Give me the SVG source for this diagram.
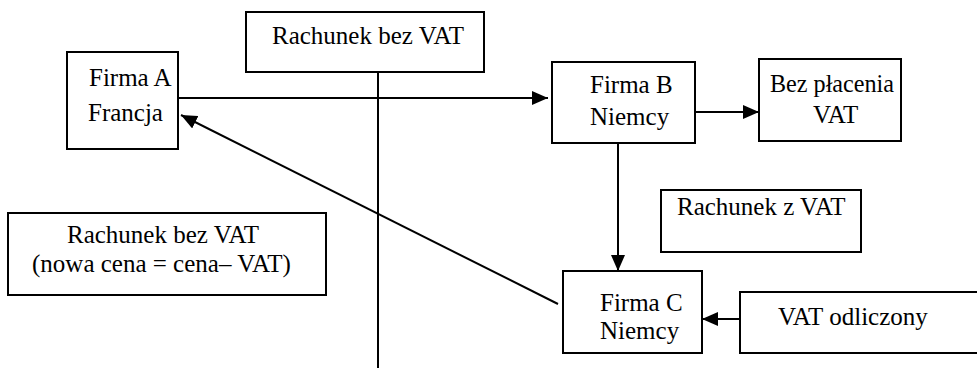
<svg xmlns="http://www.w3.org/2000/svg" width="977" height="372" viewBox="0 0 977 372">
<style>
.b{fill:#fff;stroke:#000;stroke-width:2}
.t{font-family:'Liberation Serif','Times New Roman',serif;font-size:25px;fill:#000}
.c{stroke:#000;stroke-width:2;fill:none}
</style>
<defs>
<marker id="ah" markerWidth="16" markerHeight="14" refX="16" refY="7" orient="auto" markerUnits="userSpaceOnUse">
<path d="M0,0 L16,7 L0,14 Z" fill="#000"/>
</marker>
</defs>
<rect width="977" height="372" fill="#fff"/>
<g id="connectors">
<line class="c" x1="378" y1="72" x2="378" y2="368"/>
<line class="c" x1="179" y1="98" x2="548" y2="98" marker-end="url(#ah)"/>
<line class="c" x1="695" y1="112" x2="759" y2="112" marker-end="url(#ah)"/>
<line class="c" x1="618" y1="143" x2="618" y2="271" marker-end="url(#ah)"/>
<line class="c" x1="740" y1="319" x2="702" y2="319" marker-end="url(#ah)"/>
<line class="c" x1="558" y1="304" x2="181" y2="115" marker-end="url(#ah)"/>
</g>
<g id="rachunek-bez-vat-top">
<rect class="b" x="246" y="12" width="238" height="60"/>
<text class="t" x="272" y="44">Rachunek bez VAT</text>
</g>
<g id="firma-a">
<rect class="b" x="67" y="52" width="111" height="97"/>
<text class="t" x="89" y="86">Firma A</text>
<text class="t" x="88" y="121">Francja</text>
</g>
<g id="firma-b">
<rect class="b" x="552" y="62" width="143" height="81"/>
<text class="t" x="590" y="93">Firma B</text>
<text class="t" x="590" y="125">Niemcy</text>
</g>
<g id="bez-placenia">
<rect class="b" x="759" y="59" width="142" height="82"/>
<text class="t" x="770" y="92" textLength="124" lengthAdjust="spacingAndGlyphs">Bez płacenia</text>
<text class="t" x="813" y="123">VAT</text>
</g>
<g id="rachunek-z-vat">
<rect class="b" x="661" y="190" width="200" height="62"/>
<text class="t" x="677" y="215">Rachunek z VAT</text>
</g>
<g id="rachunek-bez-vat-nowa-cena">
<rect class="b" x="8" y="213" width="318" height="82"/>
<text class="t" x="67" y="243">Rachunek bez VAT</text>
<text class="t" x="32" y="272">(nowa cena = cena– VAT)</text>
</g>
<g id="firma-c">
<rect class="b" x="563" y="271" width="139" height="82"/>
<text class="t" x="600" y="311">Firma C</text>
<text class="t" x="600" y="339">Niemcy</text>
</g>
<g id="vat-odliczony">
<rect class="b" x="740" y="292" width="240" height="61"/>
<text class="t" x="778" y="325">VAT odliczony</text>
</g>
</svg>
